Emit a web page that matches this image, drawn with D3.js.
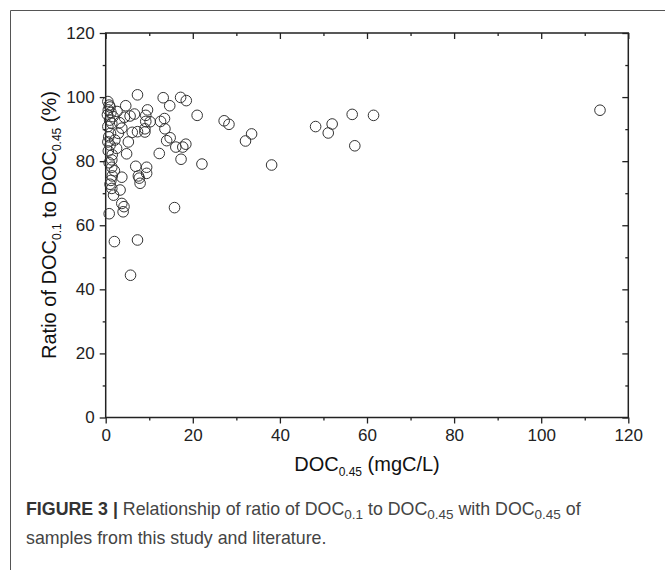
<!DOCTYPE html>
<html>
<head>
<meta charset="utf-8">
<script src="https://cdn.jsdelivr.net/npm/d3@7"></script>
<style>
  body { margin: 0; background: #fff; }
  svg { font-family: Arial, "Liberation Sans", sans-serif; }
</style>
</head>
<body>
<div id="chart"></div>
<script>
// DOC0.45 (mgC/L) for each sample
const docX = [
  0.5, 0.8, 1.0, 0.6, 1.2, 0.4, 1.7, 0.9, 1.4, 0.5, 1.1, 2.9, 0.7, 2.1, 1.0, 2.5, 0.6, 1.5, 1.4, 0.8,
  1.4, 2.0, 1.5, 1.2, 1.4, 1.8, 0.8, 2.0, 1.0, 0.5,
  3.7, 4.6, 4.3, 5.6, 6.6, 7.3, 9.6, 9.2, 9.2, 10.2, 9.0, 6.1, 7.3, 9.0, 5.2, 4.8, 3.7, 3.3, 6.9, 9.4,
  9.4, 7.5, 7.7, 7.9, 3.7, 4.2, 4.0, 7.3, 5.7, 3.2, 2.6,
  13.2, 17.2, 18.5, 14.7, 12.6, 13.5, 13.6, 14.0, 14.8, 12.3, 16.1, 17.7, 18.4, 17.3, 15.8,
  21.0, 22.1, 27.2, 28.3, 33.5, 32.1, 38.1, 48.2, 52.0, 51.1, 56.6, 57.2, 61.5, 113.5
];
// ratio of DOC0.1 to DOC0.45 (%)
const ratio = [
  98.6, 97.5, 96.9, 96.0, 95.2, 94.5, 93.9, 92.8, 91.8, 90.8, 88.7, 88.7, 87.6, 86.6, 85.0, 84.0, 83.2, 82.0, 80.4, 79.5,
  78.1, 77.0, 75.4, 74.0, 71.5, 69.4, 63.6, 54.9, 72.8, 86.0,
  90.3, 97.3, 93.7, 94.1, 94.7, 100.7, 96.0, 94.3, 92.4, 92.3, 90.1, 89.0, 89.2, 89.1, 86.0, 82.3, 75.0, 71.0, 78.4, 78.1,
  76.2, 75.4, 74.7, 73.1, 66.8, 65.8, 64.2, 55.4, 44.4, 92.0, 95.5,
  99.8, 99.9, 98.9, 97.3, 92.4, 93.3, 90.1, 86.4, 87.3, 82.4, 84.4, 84.4, 85.3, 80.6, 65.5,
  94.3, 79.1, 92.6, 91.5, 88.5, 86.3, 78.8, 90.8, 91.6, 88.8, 94.6, 84.8, 94.3, 95.9
];
const majorTicks = [0, 20, 40, 60, 80, 100, 120];
const minorTicks = [10, 30, 50, 70, 90, 110];

const points = docX.map((d, i) => ({x: d, y: ratio[i]}));

const W = 665, H = 570;
const svg = d3.select("#chart").append("svg")
    .attr("width", W)
    .attr("height", H);

// outer frame of the figure (left + top edges only visible)
svg.append("path")
    .attr("d", "M10.5,570 V10.5 H665")
    .attr("fill", "none")
    .attr("stroke", "#555")
    .attr("stroke-width", 1);

const x = d3.scaleLinear().domain([0, 120]).range([105.7, 628.3]);
const y = d3.scaleLinear().domain([0, 120]).range([417.5, 33]);

const axisCol = "#222";

function styleAxis(g) {
  g.selectAll(".domain").remove();
  g.selectAll("line").attr("stroke", axisCol).attr("stroke-width", 1.3);
  g.selectAll("text").attr("fill", "#222").attr("font-size", 17);
}

// bottom
svg.append("g").attr("transform", `translate(0,${y(0)})`)
    .call(d3.axisBottom(x).tickValues(majorTicks).tickSize(6).tickPadding(5).tickFormat(d3.format("d")))
    .call(styleAxis);
svg.append("g").attr("transform", `translate(0,${y(0)})`)
    .call(d3.axisBottom(x).tickValues(minorTicks).tickSize(3).tickFormat(""))
    .call(styleAxis);
// left
svg.append("g").attr("transform", `translate(${x(0)},0)`)
    .call(d3.axisLeft(y).tickValues(majorTicks).tickSize(6).tickPadding(5).tickFormat(d3.format("d")))
    .call(styleAxis);
svg.append("g").attr("transform", `translate(${x(0)},0)`)
    .call(d3.axisLeft(y).tickValues(minorTicks).tickSize(3).tickFormat(""))
    .call(styleAxis);
// top (ticks inward)
svg.append("g").attr("transform", `translate(0,${y(120)})`)
    .call(d3.axisBottom(x).tickValues(majorTicks).tickSize(6).tickFormat(""))
    .call(styleAxis);
svg.append("g").attr("transform", `translate(0,${y(120)})`)
    .call(d3.axisBottom(x).tickValues(minorTicks).tickSize(3).tickFormat(""))
    .call(styleAxis);
// right (ticks inward)
svg.append("g").attr("transform", `translate(${x(120)},0)`)
    .call(d3.axisLeft(y).tickValues(majorTicks).tickSize(6).tickFormat(""))
    .call(styleAxis);
svg.append("g").attr("transform", `translate(${x(120)},0)`)
    .call(d3.axisLeft(y).tickValues(minorTicks).tickSize(3).tickFormat(""))
    .call(styleAxis);

// plot frame
svg.append("rect")
    .attr("x", x(0)).attr("y", y(120))
    .attr("width", x(120) - x(0)).attr("height", y(0) - y(120))
    .attr("fill", "none")
    .attr("stroke", axisCol)
    .attr("stroke-width", 1.5);

// points
svg.append("g")
  .selectAll("circle")
  .data(points)
  .join("circle")
    .attr("cx", d => x(d.x))
    .attr("cy", d => y(d.y))
    .attr("r", 5.3)
    .attr("fill", "none")
    .attr("stroke", "#333")
    .attr("stroke-width", 1);

// x axis title
const xt = svg.append("text")
    .attr("x", 367).attr("y", 471)
    .attr("text-anchor", "middle")
    .attr("font-size", 20)
    .attr("fill", "#111");
xt.append("tspan").text("DOC");
xt.append("tspan").attr("font-size", 12).attr("dy", 5).text("0.45");
xt.append("tspan").attr("dy", -5).text(" (mgC/L)");

// y axis title
const yt = svg.append("text")
    .attr("transform", "translate(56,225) rotate(-90)")
    .attr("text-anchor", "middle")
    .attr("font-size", 20)
    .attr("fill", "#111");
yt.append("tspan").text("Ratio of DOC");
yt.append("tspan").attr("font-size", 12).attr("dy", 5).text("0.1");
yt.append("tspan").attr("dy", -5).text(" to DOC");
yt.append("tspan").attr("font-size", 12).attr("dy", 5).text("0.45");
yt.append("tspan").attr("dy", -5).text(" (%)");

// caption
const cap = svg.append("text")
    .attr("x", 26).attr("y", 515)
    .attr("font-size", 17.8)
    .attr("fill", "#444");
cap.append("tspan").attr("font-weight", "bold").attr("fill", "#333").text("FIGURE 3 | ");
cap.append("tspan").text("Relationship of ratio of DOC");
cap.append("tspan").attr("font-size", 13.5).attr("dy", 4).text("0.1");
cap.append("tspan").attr("dy", -4).text(" to DOC");
cap.append("tspan").attr("font-size", 13.5).attr("dy", 4).text("0.45");
cap.append("tspan").attr("dy", -4).text(" with DOC");
cap.append("tspan").attr("font-size", 13.5).attr("dy", 4).text("0.45");
cap.append("tspan").attr("dy", -4).text(" of");

svg.append("text")
    .attr("x", 26).attr("y", 544)
    .attr("font-size", 17.8)
    .attr("fill", "#444")
    .text("samples from this study and literature.");
</script>
</body>
</html>
